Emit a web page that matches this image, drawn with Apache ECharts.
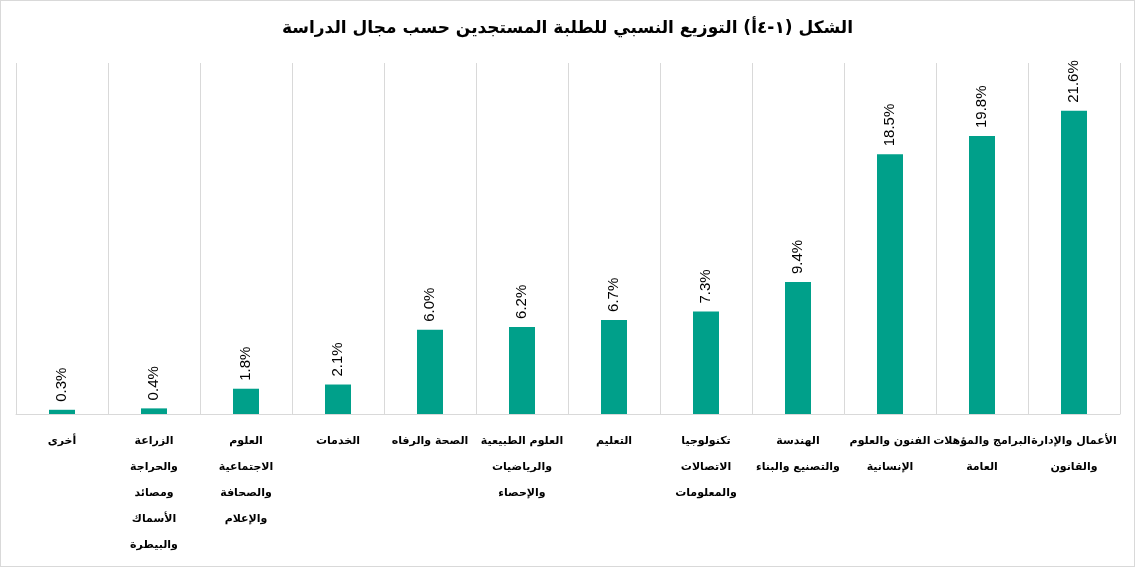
<!DOCTYPE html>
<html dir="rtl">
<head>
<meta charset="utf-8">
<script src="https://cdn.jsdelivr.net/npm/echarts@6/dist/echarts.min.js"></script>
<style>
html,body{margin:0;padding:0;background:#fff;}
#c{width:1135px;height:567px;box-sizing:border-box;border:1px solid #d9d9d9;}
</style>
</head>
<body>
<div id="c"></div>
<script>
const titleText = 'الشكل (١-٤أ) التوزيع النسبي للطلبة المستجدين حسب مجال الدراسة';
const categories = [
  'الأعمال والإدارة\nوالقانون',
  'البرامج والمؤهلات\nالعامة',
  'الفنون والعلوم\nالإنسانية',
  'الهندسة\nوالتصنيع والبناء',
  'تكنولوجيا\nالاتصالات\nوالمعلومات',
  'التعليم',
  'العلوم الطبيعية\nوالرياضيات\nوالإحصاء',
  'الصحة والرفاه',
  'الخدمات',
  'العلوم\nالاجتماعية\nوالصحافة\nوالإعلام',
  'الزراعة\nوالحراجة\nومصائد\nالأسماك\nوالبيطرة',
  'أخرى'
];
const values = [21.6, 19.8, 18.5, 9.4, 7.3, 6.7, 6.2, 6.0, 2.1, 1.8, 0.4, 0.3];

const chart = echarts.init(document.getElementById('c'), null, {renderer: 'canvas'});
chart.setOption({
  animation: false,
  title: {
    text: titleText,
    left: 'center',
    top: 14,
    textStyle: {fontFamily: 'DejaVu Sans', fontWeight: 'bold', fontSize: 17, color: '#000'}
  },
  grid: {left: 15, right: 14, top: 62, bottom: 152, containLabel: false},
  xAxis: {
    type: 'category',
    data: categories,
    inverse: true,
    axisLine: {show: true, lineStyle: {color: '#d9d9d9', width: 1}},
    axisTick: {show: false},
    splitLine: {show: true, lineStyle: {color: '#d9d9d9', width: 1}},
    axisLabel: {
      interval: 0,
      margin: 14,
      fontFamily: 'DejaVu Sans',
      fontWeight: 'bold',
      fontSize: 11,
      lineHeight: 26,
      color: '#000',
      align: 'center'
    }
  },
  yAxis: {
    type: 'value',
    min: 0,
    max: 25,
    show: false,
    splitLine: {show: false}
  },
  series: [{
    type: 'bar',
    data: values,
    barWidth: 26,
    itemStyle: {color: '#00a08a'},
    label: {
      show: true,
      position: 'top',
      rotate: 90,
      distance: 8,
      align: 'left',
      verticalAlign: 'middle',
      fontFamily: 'Liberation Sans',
      fontSize: 15,
      color: '#000',
      formatter: p => p.value.toFixed(1) + '%'
    }
  }]
});
</script>
</body>
</html>
